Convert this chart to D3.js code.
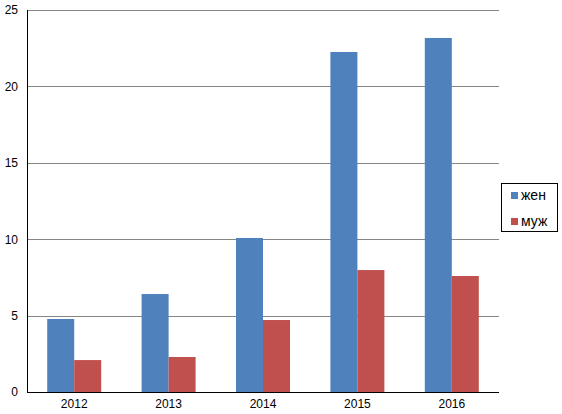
<!DOCTYPE html>
<html><head><meta charset="utf-8">
<script src="https://cdn.jsdelivr.net/npm/d3@7"></script>
<style>body{margin:0;background:#fff}svg{display:block}text{font-family:"Liberation Sans",Arial,sans-serif;font-size:12px;fill:#000}</style>
</head><body>
<script>
const categories = ["2012","2013","2014","2015","2016"];
const seriesNames = ["жен","муж"];
const zhen = [4.78, 6.41, 10.08, 22.25, 23.17];
const muzh = [2.09, 2.29, 4.71, 7.98, 7.59];
const yTicks = [0,5,10,15,20,25];
const colors = ["#4F81BD","#C0504D"];

const W=562,H=414;
const svg=d3.select("body").append("svg").attr("width",W).attr("height",H);
const x0=d3.scaleBand().domain(categories).range([27,499]).paddingInner(0.428).paddingOuter(0.214);
const x1=d3.scaleBand().domain(seriesNames).range([0,x0.bandwidth()]);
const y=d3.scaleLinear().domain([0,25]).range([392,10]);

// gridlines
svg.append("g").selectAll("line").data(yTicks.filter(d=>d>0)).join("line")
  .attr("x1",27).attr("x2",499).attr("y1",d=>Math.round(y(d))+0.5).attr("y2",d=>Math.round(y(d))+0.5)
  .attr("stroke","#868686").attr("stroke-width",1);

const data=categories.map((c,i)=>({c,vals:[zhen[i],muzh[i]]}));
svg.append("g").selectAll("g").data(data).join("g")
  .attr("transform",d=>`translate(${x0(d.c)},0)`)
  .selectAll("rect").data(d=>d.vals.map((v,j)=>({v,j}))).join("rect")
  .attr("x",d=>x1(seriesNames[d.j])).attr("width",x1.bandwidth())
  .attr("y",d=>y(d.v)).attr("height",d=>y(0)-y(d.v)).attr("fill",d=>colors[d.j]);

// y axis
const ya=svg.append("g").attr("transform","translate(27,0)")
  .call(d3.axisLeft(y).tickValues(yTicks).tickSize(0).tickPadding(9));
ya.select(".domain").attr("stroke","#000").attr("d","M0.5,10V392.5");
ya.selectAll("text").style("font-size","12px").attr("font-family",null);

// x axis
const xa=svg.append("g").attr("transform","translate(0,392)")
  .call(d3.axisBottom(x0).tickSize(0).tickPadding(7));
xa.select(".domain").attr("stroke","#000").attr("d","M27,0.5H499");
xa.selectAll("text").style("font-size","12px").attr("font-family",null);

// legend
const lg=svg.append("g");
lg.append("rect").attr("x",501.5).attr("y",183.5).attr("width",56).attr("height",48)
  .attr("fill","#fff").attr("stroke","#000");
seriesNames.forEach((n,i)=>{
  lg.append("rect").attr("x",511).attr("y",192+i*26).attr("width",7).attr("height",7).attr("fill",colors[i]);
  lg.append("text").attr("x",521).attr("y",200+i*26).style("font-size","14px").text(n);
});
</script>
</body></html>
